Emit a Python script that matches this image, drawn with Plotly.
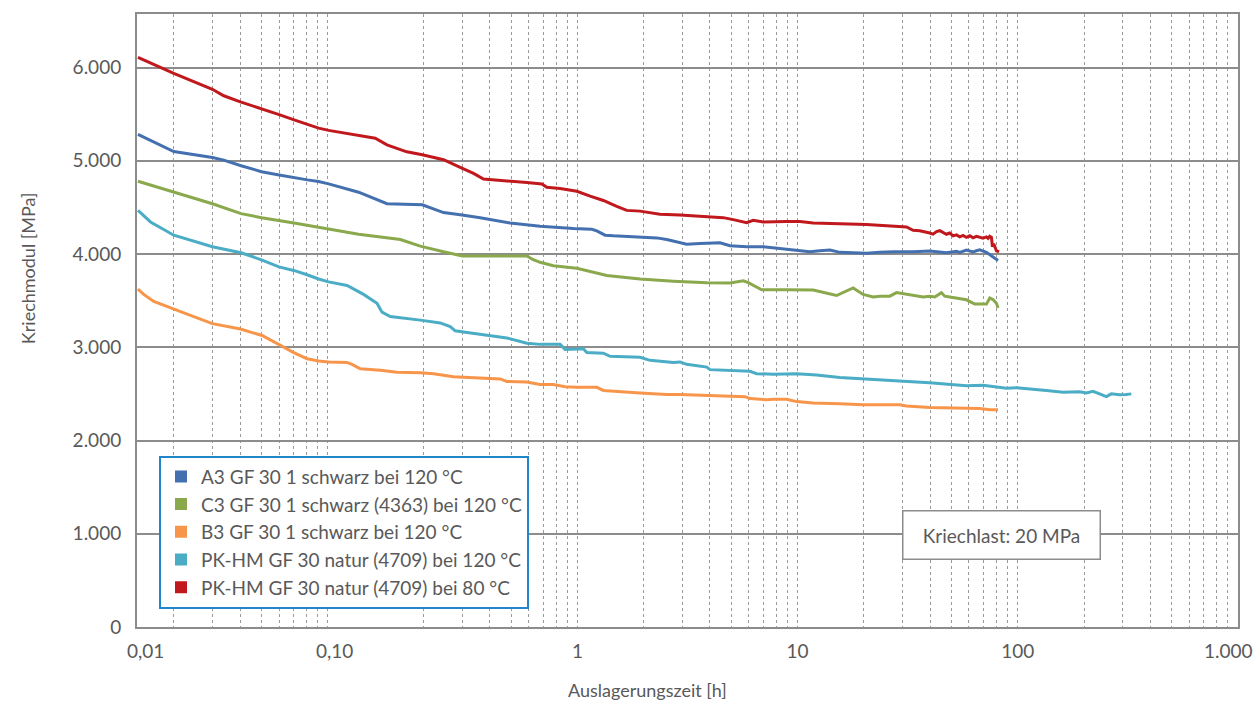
import plotly.graph_objects as go

# ---------------- data ----------------
names = [
    "A3 GF 30 1 schwarz bei 120 °C",
    "C3 GF 30 1 schwarz (4363) bei 120 °C",
    "B3 GF 30 1 schwarz bei 120 °C",
    "PK-HM GF 30 natur (4709) bei 120 °C",
    "PK-HM GF 30 natur (4709) bei 80 °C",
]
colors = ["#4470b0", "#8aa84c", "#f7964a", "#4bacc6", "#c0181c"]

a3_t = [0.0101, 0.01469, 0.0220, 0.02477, 0.0297, 0.0368, 0.0442, 0.0517, 0.0594, 0.0668, 0.0742,
        0.1015, 0.1365, 0.1975, 0.2466, 0.2936, 0.3618, 0.495, 0.677, 0.959, 1.162, 1.2246, 1.336,
        1.457, 1.795, 2.293, 2.545, 2.825, 3.136, 3.604, 4.441, 4.93, 5.871, 6.98, 8.03, 9.90, 10.6,
        11.37, 12.62, 14.02, 15.56, 20.56, 23.62, 27.2, 33.46, 39.83, 47.42, 49.09, 52.65, 54.51,
        56.42, 58.46, 60.51, 62.63, 64.91, 67.18, 72.05, 75.92, 81.34]
a3_e = [5283, 5099, 5035, 5007, 4947, 4883, 4848, 4816, 4795, 4777, 4752,
        4663, 4539, 4528, 4444, 4422, 4390, 4333, 4298, 4273, 4266, 4248, 4202,
        4195, 4184, 4173, 4156, 4128, 4106, 4114, 4120, 4088, 4078, 4078, 4064, 4043, 4035,
        4024, 4035, 4043, 4018, 4007, 4018, 4024, 4024, 4032, 4014, 4020, 4030, 4018,
        4028, 4043, 4032, 4022, 4035, 4046, 4018, 3980, 3931]

c3_t = [0.0101, 0.01469, 0.0220, 0.0297, 0.0368, 0.0517, 0.0742, 0.1015, 0.157, 0.1934, 0.2466,
        0.2936, 0.30, 0.45, 0.5895, 0.63, 0.677, 0.778, 0.895, 0.994, 1.36, 1.925, 2.73, 3.87, 4.93,
        5.67, 5.97, 6.87, 8.91, 11.77, 15.03, 17.88, 19.84, 22.03, 23.62, 26.23, 28.13, 30.14, 33.46,
        37.14, 39.83, 41.98, 45.0, 46.6, 49.09, 52.65, 58.46, 63.74, 67.18, 72.05, 74.58, 77.3,
        79.98, 81.34]
c3_e = [4780, 4663, 4539, 4433, 4390, 4333, 4273, 4213, 4156, 4085, 4024,
        3989, 3980, 3980, 3980, 3939, 3911, 3874, 3862, 3847, 3770, 3732, 3709, 3693, 3690,
        3713, 3693, 3617, 3617, 3613, 3555, 3636, 3567, 3540, 3548, 3548, 3586, 3575, 3560,
        3540, 3548, 3540, 3586, 3548, 3540, 3529, 3509, 3463, 3463, 3463, 3529, 3509,
        3471, 3422]

b3_t = [0.0101, 0.01073, 0.01192, 0.01469, 0.0169, 0.0220, 0.0295, 0.037, 0.0441, 0.0515, 0.0592,
        0.0668, 0.0742, 0.0899, 0.0947, 0.1033, 0.1273, 0.1516, 0.1934, 0.2222, 0.2737, 0.4018,
        0.446, 0.4783, 0.5895, 0.677, 0.778, 0.8794, 0.994, 1.2246, 1.312, 1.925, 2.545, 2.924,
        3.87, 4.761, 5.77, 6.077, 7.24, 7.75, 8.91, 9.9, 11.77, 15.56, 19.84, 29.12, 31.23, 39.8,
        49.1, 58.4, 67.2, 74.6, 81.3]
b3_e = [3624, 3567, 3491, 3414, 3356, 3253, 3195, 3126, 3031, 2943, 2877,
        2853, 2843, 2837, 2817, 2770, 2753, 2733, 2727, 2717, 2683, 2670,
        2660, 2633, 2627, 2600, 2600, 2577, 2570, 2570, 2537, 2510, 2493, 2493,
        2483, 2477, 2470, 2450, 2437, 2443, 2443, 2417, 2403, 2393, 2383, 2383, 2370, 2353,
        2347, 2347, 2343, 2330, 2330]

pk120_t = [0.0101, 0.01152, 0.01469, 0.0220, 0.0297, 0.037, 0.0441, 0.0515, 0.0592, 0.0668, 0.0742,
           0.0899, 0.1069, 0.123, 0.1296, 0.1413, 0.1934, 0.2382, 0.2645, 0.2787, 0.304, 0.4018,
           0.4783, 0.5895, 0.677, 0.8346, 0.8794, 1.065, 1.103, 1.312, 1.407, 1.925, 2.137, 2.73,
           2.924, 3.136, 3.604, 3.87, 4.0, 4.761, 6.077, 6.516, 7.75, 9.9, 12.2, 15.56, 19.84,
           29.12, 34.67, 39.8, 49.1, 58.4, 69.5, 80.0, 88.8, 98.5, 117.2, 134.9, 160.4, 190.9,
           204.8, 219.4, 235.3, 252.4, 265.9, 290.0, 311.0, 327.7]
pk120_e = [4468, 4344, 4202, 4078, 4014, 3935, 3862, 3824, 3778, 3732, 3701,
           3663, 3567, 3471, 3376, 3330, 3291, 3261, 3222, 3176, 3164, 3126,
           3100, 3043, 3031, 3031, 2977, 2983, 2943, 2937, 2903, 2893, 2860, 2837,
           2843, 2817, 2800, 2787, 2760, 2753, 2743, 2717, 2710, 2717, 2703, 2677, 2660,
           2640, 2627, 2620, 2603, 2587, 2593, 2577, 2560, 2567, 2553, 2537, 2517, 2523,
           2510, 2527, 2500, 2470, 2500, 2490, 2493, 2500]

pk80_t = [0.0101, 0.01469, 0.0220, 0.02477, 0.0297, 0.0368, 0.0442, 0.0517, 0.0594, 0.0668, 0.0742,
          0.0963, 0.1208, 0.1365, 0.157, 0.168, 0.1975, 0.2466, 0.2936, 0.3375, 0.3746, 0.446,
          0.5895, 0.6895, 0.7263, 0.8346, 0.9938, 1.142, 1.312, 1.509, 1.675, 1.925, 2.372, 2.924,
          4.0, 4.597, 5.104, 5.871, 6.288, 6.98, 8.91, 10.24, 11.77, 15.56, 20.56, 31.23, 33.46,
          35.87, 38.48, 39.83, 41.23, 42.73, 44.22, 45.78, 47.42, 49.09, 50.82, 52.65, 54.51,
          56.42, 58.46, 60.51, 62.63, 64.91, 67.18, 69.54, 72.05, 73.27, 74.58, 75.92, 76.70,
          77.75, 79.98, 82.19]
pk80_e = [6110, 5936, 5767, 5697, 5629, 5559, 5495, 5438, 5389, 5350, 5326,
          5283, 5241, 5170, 5115, 5096, 5064, 5011, 4929, 4865, 4805, 4787,
          4766, 4752, 4716, 4702, 4673, 4620, 4574, 4511, 4468, 4460, 4426, 4418,
          4404, 4390, 4369, 4337, 4362, 4344, 4348, 4348, 4333, 4326, 4316, 4290, 4255,
          4250, 4237, 4225, 4213, 4240, 4250, 4228, 4212, 4225, 4195, 4205, 4184,
          4200, 4178, 4195, 4173, 4190, 4181, 4170, 4184, 4168, 4190, 4178, 4078,
          4110, 4035, 4024]

series_t = [a3_t, c3_t, b3_t, pk120_t, pk80_t]
series_e = [a3_e, c3_e, b3_e, pk120_e, pk80_e]

# x tick labels: inner ones on the axis, outer ones placed as Excel shows them
x_tickvals = [1, 10, 100]
x_ticktext = ["1", "10", "100"]
x_edge_labels = ["0,01", "0,10", "1.000"]
x_edge_label_px = [145, 334, 1228]      # label centres in the reference picture
y_tickvals = [0, 1000, 2000, 3000, 4000, 5000, 6000]

# dotted vertical grid positions (Excel minor grid as drawn in the reference)
minor_grid = [0.00736 * k for k in range(2, 11)]
for d in (-1, 0, 1, 2):
    minor_grid += [10 ** d * k for k in range(2, 11)]

# ---------------- figure ----------------
FONT = "Lato"
GREY_TXT = "#595959"
L, R, T, B = 137, 17, 12, 77
W, H = 1255, 704
PW, PH = W - L - R, H - T - B

fig = go.Figure()

for name, col, t, e in zip(names, colors, series_t, series_e):
    fig.add_trace(go.Scatter(x=t, y=e, mode="lines", name=name, showlegend=False,
                             line=dict(color=col, width=3)))
for name, col in zip(names, colors):
    fig.add_trace(go.Scatter(x=[None], y=[None], mode="markers", name=name,
                             marker=dict(symbol="square", size=15, color=col)))

fig.update_layout(
    width=W, height=H,
    margin=dict(l=L, r=R, t=T, b=B),
    paper_bgcolor="white", plot_bgcolor="white",
    separators=",.",
    font=dict(family=FONT, size=19, color=GREY_TXT),
    legend=dict(x=(159 - L) / PW, y=(H - B - 455) / PH, xanchor="left", yanchor="top",
                bgcolor="white", bordercolor="#1f86c7", borderwidth=2,
                font=dict(family=FONT, size=19, color=GREY_TXT),
                tracegroupgap=0, itemsizing="constant"),
    showlegend=True,
)

fig.update_xaxes(
    type="log", range=[-2, 3],
    tickmode="array", tickvals=x_tickvals, ticktext=x_ticktext,
    showgrid=False, ticks="", ticklabelstandoff=6,
    showline=True, linecolor="#8c8c8c", linewidth=2, mirror=True,
    tickfont=dict(family=FONT, size=19, color=GREY_TXT),
    minor=dict(tickmode="array", tickvals=minor_grid, showgrid=True,
               gridcolor="#9a9a9a", griddash="dot", gridwidth=1, ticks=""),
    zeroline=False,
)
fig.update_yaxes(
    range=[0, 6574],
    tickmode="array", tickvals=y_tickvals, tickformat=",d",
    showgrid=True, gridcolor="#8c8c8c", gridwidth=1.5,
    ticks="", ticklabelstandoff=10,
    showline=True, linecolor="#8c8c8c", linewidth=2, mirror=True,
    tickfont=dict(family=FONT, size=19, color=GREY_TXT),
    zeroline=False,
)

# outer x tick labels
for txt, px in zip(x_edge_labels, x_edge_label_px):
    fig.add_annotation(text=txt, xref="paper", yref="paper",
                       x=(px - L) / PW, y=(H - B - 651) / PH,
                       xanchor="center", yanchor="middle", showarrow=False,
                       font=dict(family=FONT, size=19, color=GREY_TXT))

# axis titles
fig.add_annotation(text="Auslagerungszeit [h]", xref="paper", yref="paper",
                   x=(647 - L) / PW, y=(H - B - 690) / PH,
                   xanchor="center", yanchor="middle", showarrow=False,
                   font=dict(family=FONT, size=18, color=GREY_TXT))
fig.add_annotation(text="Kriechmodul [MPa]", xref="paper", yref="paper",
                   x=(28 - L) / PW, y=(H - B - 267) / PH, textangle=-90,
                   xanchor="center", yanchor="middle", showarrow=False,
                   font=dict(family=FONT, size=18, color=GREY_TXT))

# load box
fig.add_annotation(text="Kriechlast: 20 MPa", xref="paper", yref="paper",
                   x=(1001 - L) / PW, y=(H - B - 534.5) / PH,
                   xanchor="center", yanchor="middle", showarrow=False,
                   width=196, height=47, borderpad=0, borderwidth=1.5,
                   bordercolor="#8c8c8c", bgcolor="white",
                   font=dict(family=FONT, size=19, color=GREY_TXT))

fig.write_html("out.html")
